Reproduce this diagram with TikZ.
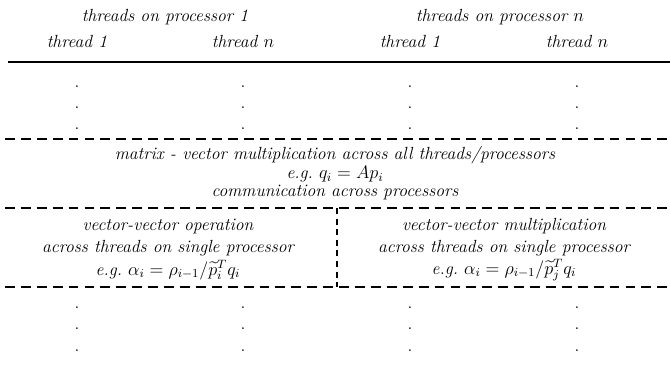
\documentclass[tikz,border=0pt]{standalone}
\usepackage{amsmath}
\usepackage{amssymb}
\usetikzlibrary{positioning}

\begin{document}
\begin{tikzpicture}[x=0.0232cm,y=-0.0232cm,
    txt/.style={font=\fontsize{11.6}{14}\selectfont\itshape,inner sep=0pt},
    dot/.style={font=\fontsize{11.6}{14}\selectfont,inner sep=0pt,anchor=base},
    cut/.style={line width=0.7pt,dash pattern=on 6.5pt off 4pt},
    node distance=1pt]

    \useasboundingbox (0,0) rectangle (670,377);

    % column heads
    \node[txt] (proc1) at (165,17) {threads on processor 1};
    \node[txt] (procn) at (500,17) {threads on processor $n$};
    \node[txt] (t11) at (77,41) {thread 1};
    \node[txt] (t1n) at (243,41) {thread $n$};
    \node[txt] (tn1) at (410,41) {thread 1};
    \node[txt] (tnn) at (577,41) {thread $n$};

    \coordinate (rl) at (8,62);
    \coordinate (rr) at (670,62);
    \draw[line width=0.8pt] (rl) -- (rr);

    % dots above and below
    \foreach \c/\x in {a/77,b/243,c/410,d/577}{
      \foreach \r/\y in {1/87,2/108,3/129,4/308,5/329,6/351}
        \node[dot] (dot\c\r) at (\x,\y) {.};
    }

    % matrix-vector block
    \coordinate (d1l) at (5,139);
    \coordinate (d1r) at (670,139);
    \draw[cut] (d1l) -- (d1r);
    \node[txt] (mv) at (335,155) {matrix - vector multiplication across all threads/processors};
    \node[txt] (mveg) at (335,174) {e.g.\ $q_i = Ap_i$};
    \node[txt] (comm) at (335,192) {communication across processors};

    % vector-vector blocks
    \coordinate (d2l) at (5,208);
    \coordinate (d2r) at (670,208);
    \draw[cut] (d2l) -- (d2r);
    \coordinate (vt) at (337,208);
    \coordinate (vb) at (337,287);
    \draw[cut,dash pattern=on 4pt off 3pt] (vt) -- (vb);

    \node[txt] (vvl) at (168,226) {vector-vector operation};
    \node[txt] (vvlb) at (168,248) {across threads on single processor};
    \node[txt] (vvleg) at (168,270) {e.g.\ $\alpha_i = \rho_{i-1}/\widetilde{p}_i^T q_i$};
    \node[txt] (vvr) at (504,226) {vector-vector multiplication};
    \node[txt] (vvrb) at (504,248) {across threads on single processor};
    \node[txt] (vvreg) at (504,270) {e.g.\ $\alpha_i = \rho_{i-1}/\widetilde{p}_j^T q_i$};

    \coordinate (d3l) at (5,287);
    \coordinate (d3r) at (670,287);
    \draw[cut] (d3l) -- (d3r);
\end{tikzpicture}
\end{document}
